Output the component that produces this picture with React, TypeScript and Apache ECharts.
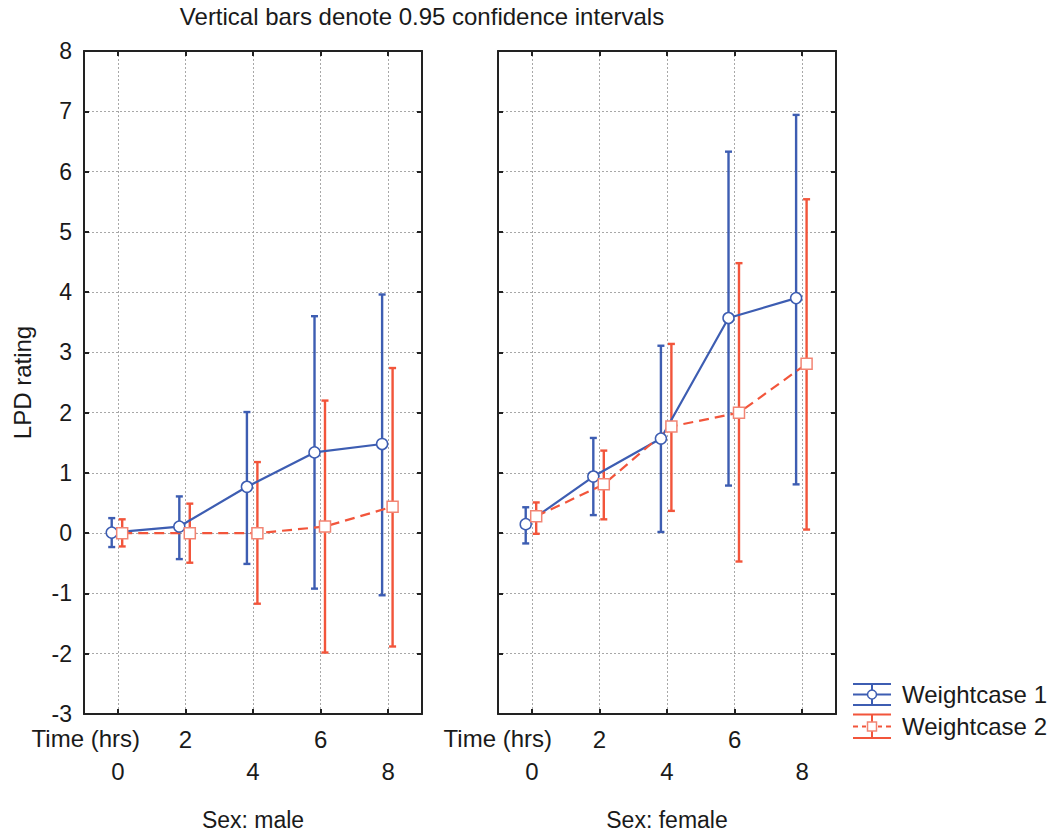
import React, { useEffect, useRef } from "react";
import * as echarts from "echarts";

// ---- data ----
const times = [0, 2, 4, 6, 8];
const yTicks = [-3, -2, -1, 0, 1, 2, 3, 4, 5, 6, 7, 8];

const maleW1Mean = [0.01, 0.11, 0.77, 1.34, 1.48];
const maleW1Lo = [-0.23, -0.43, -0.51, -0.92, -1.03];
const maleW1Hi = [0.25, 0.61, 2.01, 3.6, 3.96];

const maleW2Mean = [0.0, 0.0, 0.0, 0.11, 0.44];
const maleW2Lo = [-0.22, -0.49, -1.17, -1.98, -1.88];
const maleW2Hi = [0.23, 0.49, 1.18, 2.2, 2.74];

const femaleW1Mean = [0.15, 0.94, 1.57, 3.57, 3.9];
const femaleW1Lo = [-0.17, 0.3, 0.02, 0.79, 0.81];
const femaleW1Hi = [0.43, 1.58, 3.11, 6.33, 6.94];

const femaleW2Mean = [0.28, 0.81, 1.77, 2.0, 2.81];
const femaleW2Lo = [-0.01, 0.23, 0.37, -0.47, 0.06];
const femaleW2Hi = [0.51, 1.37, 3.14, 4.48, 5.54];

const seriesNames = ["Weightcase 1", "Weightcase 2"];
const panelNames = ["Sex: male", "Sex: female"];

// ---- styles ----
const BLUE = "#3d5db2";
const RED = "#f2553b";
const RED_MARK = "#f28574";
const TXT = "#1a1a1a";
const FONT = "'Liberation Sans', Arial, sans-serif";
const OFF1 = -0.18;
const OFF2 = 0.13;

const lineData = (mean: number[], off: number) => times.map((t, i) => [t + off, mean[i]]);
const errData = (lo: number[], hi: number[], off: number) => times.map((t, i) => [t + off, lo[i], hi[i]]);

const errRender = (color: string) => (params: any, api: any) => {
  const x = api.value(0);
  const lo = api.value(1);
  const hi = api.value(2);
  const pHi = api.coord([x, hi]);
  const pLo = api.coord([x, lo]);
  const w = 3.5;
  const style = { stroke: color, lineWidth: 2.4 };
  return {
    type: "group",
    children: [
      { type: "line", shape: { x1: pHi[0], y1: pHi[1], x2: pLo[0], y2: pLo[1] }, style },
      { type: "line", shape: { x1: pHi[0] - w, y1: pHi[1], x2: pHi[0] + w, y2: pHi[1] }, style },
      { type: "line", shape: { x1: pLo[0] - w, y1: pLo[1], x2: pLo[0] + w, y2: pLo[1] }, style },
    ],
  };
};

export default function App() {
  const ref = useRef<HTMLDivElement>(null);
  useEffect(() => {
    if (!ref.current) return;
    const chart = echarts.init(ref.current, null, { renderer: "svg" });

    const axisLine = { show: true, onZero: false, lineStyle: { color: "#222", width: 2 } };
    const tick = { show: true, inside: true, length: 5, lineStyle: { color: "#222", width: 2 } };
    const split = { show: true, lineStyle: { color: "#a8a8a8", width: 1, type: [2, 2] as any } };

    const xBottom = (gridIndex: number, name: string) => ({
      type: "value",
      gridIndex,
      position: "bottom",
      min: -1,
      max: 9,
      name,
      nameLocation: "middle",
      nameGap: 94,
      nameTextStyle: { fontFamily: FONT, fontSize: 23, color: TXT },
      axisLine,
      axisTick: { ...tick, customValues: times },
      axisLabel: {
        customValues: times,
        fontFamily: FONT,
        fontSize: 24,
        color: TXT,
        lineHeight: 32,
        margin: 9,
        formatter: (v: number) => (v % 4 === 0 ? "\n" : "") + v,
      },
      splitLine: split,
    });
    const xTop = (gridIndex: number) => ({
      type: "value",
      gridIndex,
      position: "top",
      min: -1,
      max: 9,
      axisLine,
      axisTick: { ...tick, customValues: times },
      axisLabel: { show: false },
      splitLine: { show: false },
    });
    const yLeft = (gridIndex: number, labels: boolean, name: string) => ({
      type: "value",
      gridIndex,
      position: "left",
      min: yTicks[0],
      max: yTicks[yTicks.length - 1],
      interval: 1,
      name,
      nameLocation: "middle",
      nameGap: 50,
      nameTextStyle: { fontFamily: FONT, fontSize: 24, color: TXT },
      axisLine,
      axisTick: tick,
      axisLabel: { show: labels, fontFamily: FONT, fontSize: 23, color: TXT, margin: 12 },
      splitLine: split,
    });
    const yRight = (gridIndex: number) => ({
      type: "value",
      gridIndex,
      position: "right",
      min: yTicks[0],
      max: yTicks[yTicks.length - 1],
      interval: 1,
      axisLine,
      axisTick: tick,
      axisLabel: { show: false },
      splitLine: { show: false },
    });

    const errSeries = (name: string, xi: number, lo: number[], hi: number[], off: number, color: string) => ({
      type: "custom",
      name,
      xAxisIndex: xi,
      yAxisIndex: xi,
      renderItem: errRender(color),
      encode: { x: 0, y: [1, 2] },
      data: errData(lo, hi, off),
      z: 2,
      silent: true,
    });
    const lineSeries = (name: string, xi: number, mean: number[], off: number, w1: boolean) => ({
      type: "line",
      name,
      xAxisIndex: xi,
      yAxisIndex: xi,
      data: lineData(mean, off),
      symbol: w1 ? "circle" : "rect",
      symbolSize: 11,
      showAllSymbol: true,
      lineStyle: w1 ? { color: BLUE, width: 2.2 } : { color: RED, width: 2.2, type: [10, 6] },
      itemStyle: { color: "#fff", borderColor: w1 ? BLUE : RED_MARK, borderWidth: 1.5 },
      z: 3,
    });

    const legendY1 = 694.5;
    const legendY2 = 726.5;
    const lx1 = 853;
    const lx2 = 891;
    const lc = 872;
    const graphic: any[] = [
      {
        type: "text",
        x: 422,
        y: 16,
        style: { text: "Vertical bars denote 0.95 confidence intervals", fontFamily: FONT, fontSize: 24, fill: TXT, textAlign: "center", textVerticalAlign: "middle" },
      },
      {
        type: "text",
        x: 140,
        y: 738.5,
        style: { text: "Time (hrs)", fontFamily: FONT, fontSize: 24, fill: TXT, textAlign: "right", textVerticalAlign: "middle" },
      },
      {
        type: "text",
        x: 552,
        y: 738.5,
        style: { text: "Time (hrs)", fontFamily: FONT, fontSize: 24, fill: TXT, textAlign: "right", textVerticalAlign: "middle" },
      },
      // legend 1
      { type: "line", shape: { x1: lx1, y1: legendY1 - 10.5, x2: lx2, y2: legendY1 - 10.5 }, style: { stroke: BLUE, lineWidth: 2 } },
      { type: "line", shape: { x1: lx1, y1: legendY1 + 10.5, x2: lx2, y2: legendY1 + 10.5 }, style: { stroke: BLUE, lineWidth: 2 } },
      { type: "line", shape: { x1: lx1, y1: legendY1, x2: lx2, y2: legendY1 }, style: { stroke: BLUE, lineWidth: 2 } },
      { type: "line", shape: { x1: lc, y1: legendY1 - 10.5, x2: lc, y2: legendY1 + 10.5 }, style: { stroke: BLUE, lineWidth: 2 } },
      { type: "circle", shape: { cx: lc, cy: legendY1, r: 4.5 }, style: { fill: "#fff", stroke: BLUE, lineWidth: 1.5 } },
      { type: "text", x: 902, y: legendY1, style: { text: seriesNames[0], fontFamily: FONT, fontSize: 24, fill: TXT, textVerticalAlign: "middle" } },
      // legend 2
      { type: "line", shape: { x1: lx1, y1: legendY2 - 12, x2: lx2, y2: legendY2 - 12 }, style: { stroke: RED, lineWidth: 2 } },
      { type: "line", shape: { x1: lx1, y1: legendY2 + 11.5, x2: lx2, y2: legendY2 + 11.5 }, style: { stroke: RED, lineWidth: 2 } },
      { type: "line", shape: { x1: lx1, y1: legendY2, x2: lx1 + 5, y2: legendY2 }, style: { stroke: RED, lineWidth: 2 } },
      { type: "line", shape: { x1: lx1 + 9, y1: legendY2, x2: lx1 + 13, y2: legendY2 }, style: { stroke: RED, lineWidth: 2 } },
      { type: "line", shape: { x1: lx2 - 13, y1: legendY2, x2: lx2 - 9, y2: legendY2 }, style: { stroke: RED, lineWidth: 2 } },
      { type: "line", shape: { x1: lx2 - 5, y1: legendY2, x2: lx2, y2: legendY2 }, style: { stroke: RED, lineWidth: 2 } },
      { type: "line", shape: { x1: lc, y1: legendY2 - 12, x2: lc, y2: legendY2 + 11.5 }, style: { stroke: RED, lineWidth: 2 } },
      { type: "rect", shape: { x: lc - 4.5, y: legendY2 - 4.5, width: 9, height: 9 }, style: { fill: "#fff", stroke: RED_MARK, lineWidth: 1.5 } },
      { type: "text", x: 902, y: legendY2, style: { text: seriesNames[1], fontFamily: FONT, fontSize: 24, fill: TXT, textVerticalAlign: "middle" } },
    ];

    chart.setOption({
      animation: false,
      backgroundColor: "#fff",
      textStyle: { fontFamily: FONT },
      grid: [
        { left: 84, right: 1058 - 422, top: 51, bottom: 837 - 714 },
        { left: 498, right: 1058 - 836, top: 51, bottom: 837 - 714 },
      ],
      xAxis: [xBottom(0, panelNames[0]), xTop(0), xBottom(1, panelNames[1]), xTop(1)],
      yAxis: [yLeft(0, true, "LPD rating"), yRight(0), yLeft(1, false, ""), yRight(1)],
      series: [
        errSeries(seriesNames[0], 0, maleW1Lo, maleW1Hi, OFF1, BLUE),
        errSeries(seriesNames[1], 0, maleW2Lo, maleW2Hi, OFF2, RED),
        lineSeries(seriesNames[0], 0, maleW1Mean, OFF1, true),
        lineSeries(seriesNames[1], 0, maleW2Mean, OFF2, false),
        errSeries(seriesNames[0], 2, femaleW1Lo, femaleW1Hi, OFF1, BLUE),
        errSeries(seriesNames[1], 2, femaleW2Lo, femaleW2Hi, OFF2, RED),
        lineSeries(seriesNames[0], 2, femaleW1Mean, OFF1, true),
        lineSeries(seriesNames[1], 2, femaleW2Mean, OFF2, false),
      ],
      graphic,
    });
    return () => chart.dispose();
  }, []);
  return <div ref={ref} style={{ position: "fixed", left: 0, top: 0, width: 1058, height: 837 }} />;
}
